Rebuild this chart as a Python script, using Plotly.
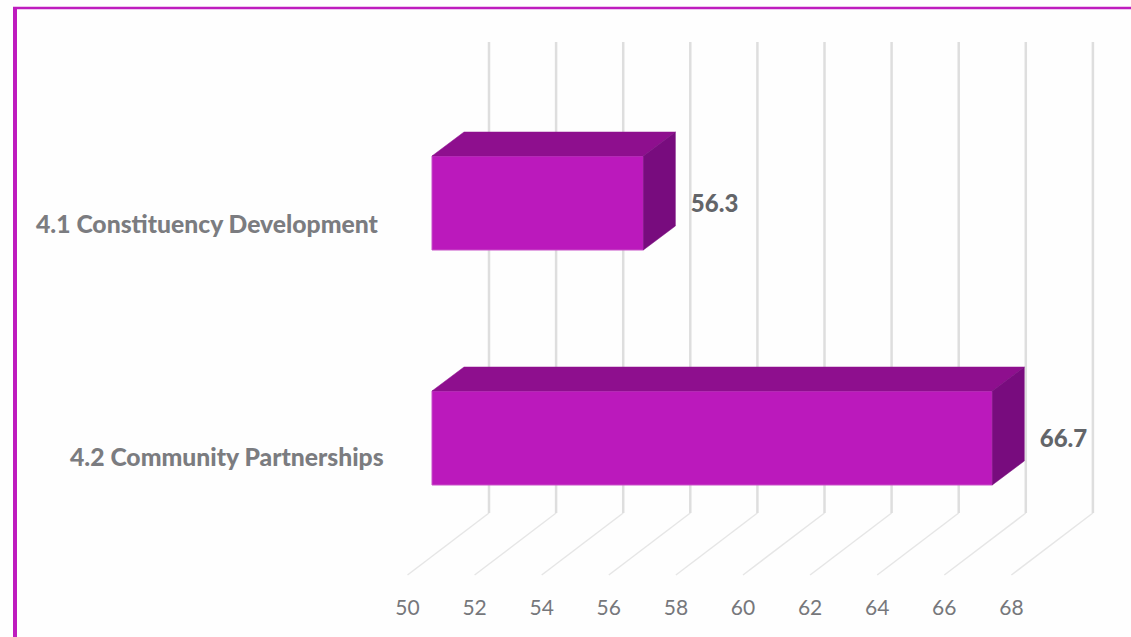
import plotly.graph_objects as go

# --- data ---
categories = ["4.1 Constituency Development", "4.2 Community Partnerships"]
values = [56.3, 66.7]
tick_values = [50, 52, 54, 56, 58, 60, 62, 64, 66, 68]
axis_base = 50

# --- geometry (pixels on the page) ---
W, H = 1131, 637
BOTTOM = 51
PPU = 33.55
PX50 = 407.5
BAR_OFFSET = 24.5 / PPU        # front of bar vs. front of the floor
BAR_DEPTH = 32 / PPU
WALL_DEPTH = 81.5 / PPU
BAR_RISE = 24
FLOOR_FRONT, FLOOR_BACK, WALL_TOP = 575, 513, 42
BAR_CENTERS = [203, 438]
BAR_H = 94
LABEL_GAP = 47.5 / PPU
CAT_RIGHT = [381, 386]
CAT_Y = [223, 457]

x_lo = axis_base - PX50 / PPU
x_hi = x_lo + W / PPU
plot_h = H - BOTTOM

fig = go.Figure()

# floor and wall grid
floor_x, floor_y, wall_x, wall_y = [], [], [], []
for t in tick_values:
    floor_x += [t, t + WALL_DEPTH, None]
    floor_y += [FLOOR_FRONT, FLOOR_BACK, None]
    wall_x += [t + WALL_DEPTH, t + WALL_DEPTH, None]
    wall_y += [FLOOR_BACK, WALL_TOP, None]
fig.add_trace(go.Scatter(x=floor_x, y=floor_y, mode="lines",
                         line=dict(color="#E6E6E6", width=1.5), hoverinfo="skip", showlegend=False))
fig.add_trace(go.Scatter(x=wall_x, y=wall_y, mode="lines",
                         line=dict(color="#DEDEDE", width=2.5), hoverinfo="skip", showlegend=False))

# bars: front face, on an overlay axis shifted by the bar's place on the floor
fig.add_trace(go.Bar(x=[v - axis_base for v in values], y=BAR_CENTERS, base=axis_base,
                     orientation="h", width=BAR_H, xaxis="x2",
                     marker=dict(color="#BB19BC", line=dict(color="#C850C8", width=1)),
                     hovertemplate="%{customdata}<extra></extra>",
                     customdata=values, showlegend=False))

# top and side faces
for v, c in zip(values, BAR_CENTERS):
    top, bot = c - BAR_H / 2, c + BAR_H / 2
    fig.add_trace(go.Scatter(
        x=[axis_base, v, v + BAR_DEPTH, axis_base + BAR_DEPTH, axis_base],
        y=[top, top, top - BAR_RISE, top - BAR_RISE, top],
        xaxis="x2", mode="lines", fill="toself", fillcolor="#8E0F8E",
        line=dict(color="#8E0F8E", width=0.5), hoverinfo="skip", showlegend=False))
    fig.add_trace(go.Scatter(
        x=[v, v + BAR_DEPTH, v + BAR_DEPTH, v, v],
        y=[top, top - BAR_RISE, bot - BAR_RISE, bot, top],
        xaxis="x2", mode="lines", fill="toself", fillcolor="#780C7E",
        line=dict(color="#780C7E", width=0.5), hoverinfo="skip", showlegend=False))

# value labels
fig.add_trace(go.Scatter(x=[v + LABEL_GAP for v in values], y=[c + 2.5 for c in BAR_CENTERS],
                         xaxis="x2", mode="text", text=[f"{v:.1f}" for v in values],
                         textposition="middle right",
                         textfont=dict(family="Lato", size=24, color="#636569", weight=900),
                         hoverinfo="skip", showlegend=False))

# category labels
for name, right, y in zip(categories, CAT_RIGHT, CAT_Y):
    fig.add_annotation(x=right / W, y=1 - y / plot_h, xref="paper", yref="paper", text=name,
                       showarrow=False, xanchor="right", yanchor="middle",
                       font=dict(family="Lato", size=24.7, color="#7B7C80", weight=900))

frame = "#BE1CBE"
shapes = [
    dict(type="line", xref="paper", yref="paper", x0=13 / W, x1=1, y0=1 - 8 / plot_h, y1=1 - 8 / plot_h,
         line=dict(color=frame, width=2.5)),
    dict(type="line", xref="paper", yref="paper", x0=15 / W, x1=15 / W, y0=1 - 7 / plot_h, y1=1 - H / plot_h,
         line=dict(color=frame, width=4)),
]

fig.update_layout(
    width=W, height=H, margin=dict(l=0, r=0, t=0, b=BOTTOM),
    paper_bgcolor="#FEFEFE", plot_bgcolor="#FEFEFE", showlegend=False, shapes=shapes,
    xaxis=dict(range=[x_lo, x_hi], tickmode="array", tickvals=tick_values,
               ticktext=[str(t) for t in tick_values], showgrid=False, zeroline=False, showline=False,
               ticks="outside", ticklen=3, tickcolor="rgba(0,0,0,0)",
               tickfont=dict(family="Lato", size=21, color="#76777B")),
    xaxis2=dict(range=[x_lo - BAR_OFFSET, x_hi - BAR_OFFSET], overlaying="x", visible=False),
    yaxis=dict(range=[plot_h, 0], visible=False),
    barmode="overlay",
)

fig.write_html("out.html", config=dict(displayModeBar=False),
               post_script="document.body.style.margin='0';document.body.style.overflow='hidden';")
